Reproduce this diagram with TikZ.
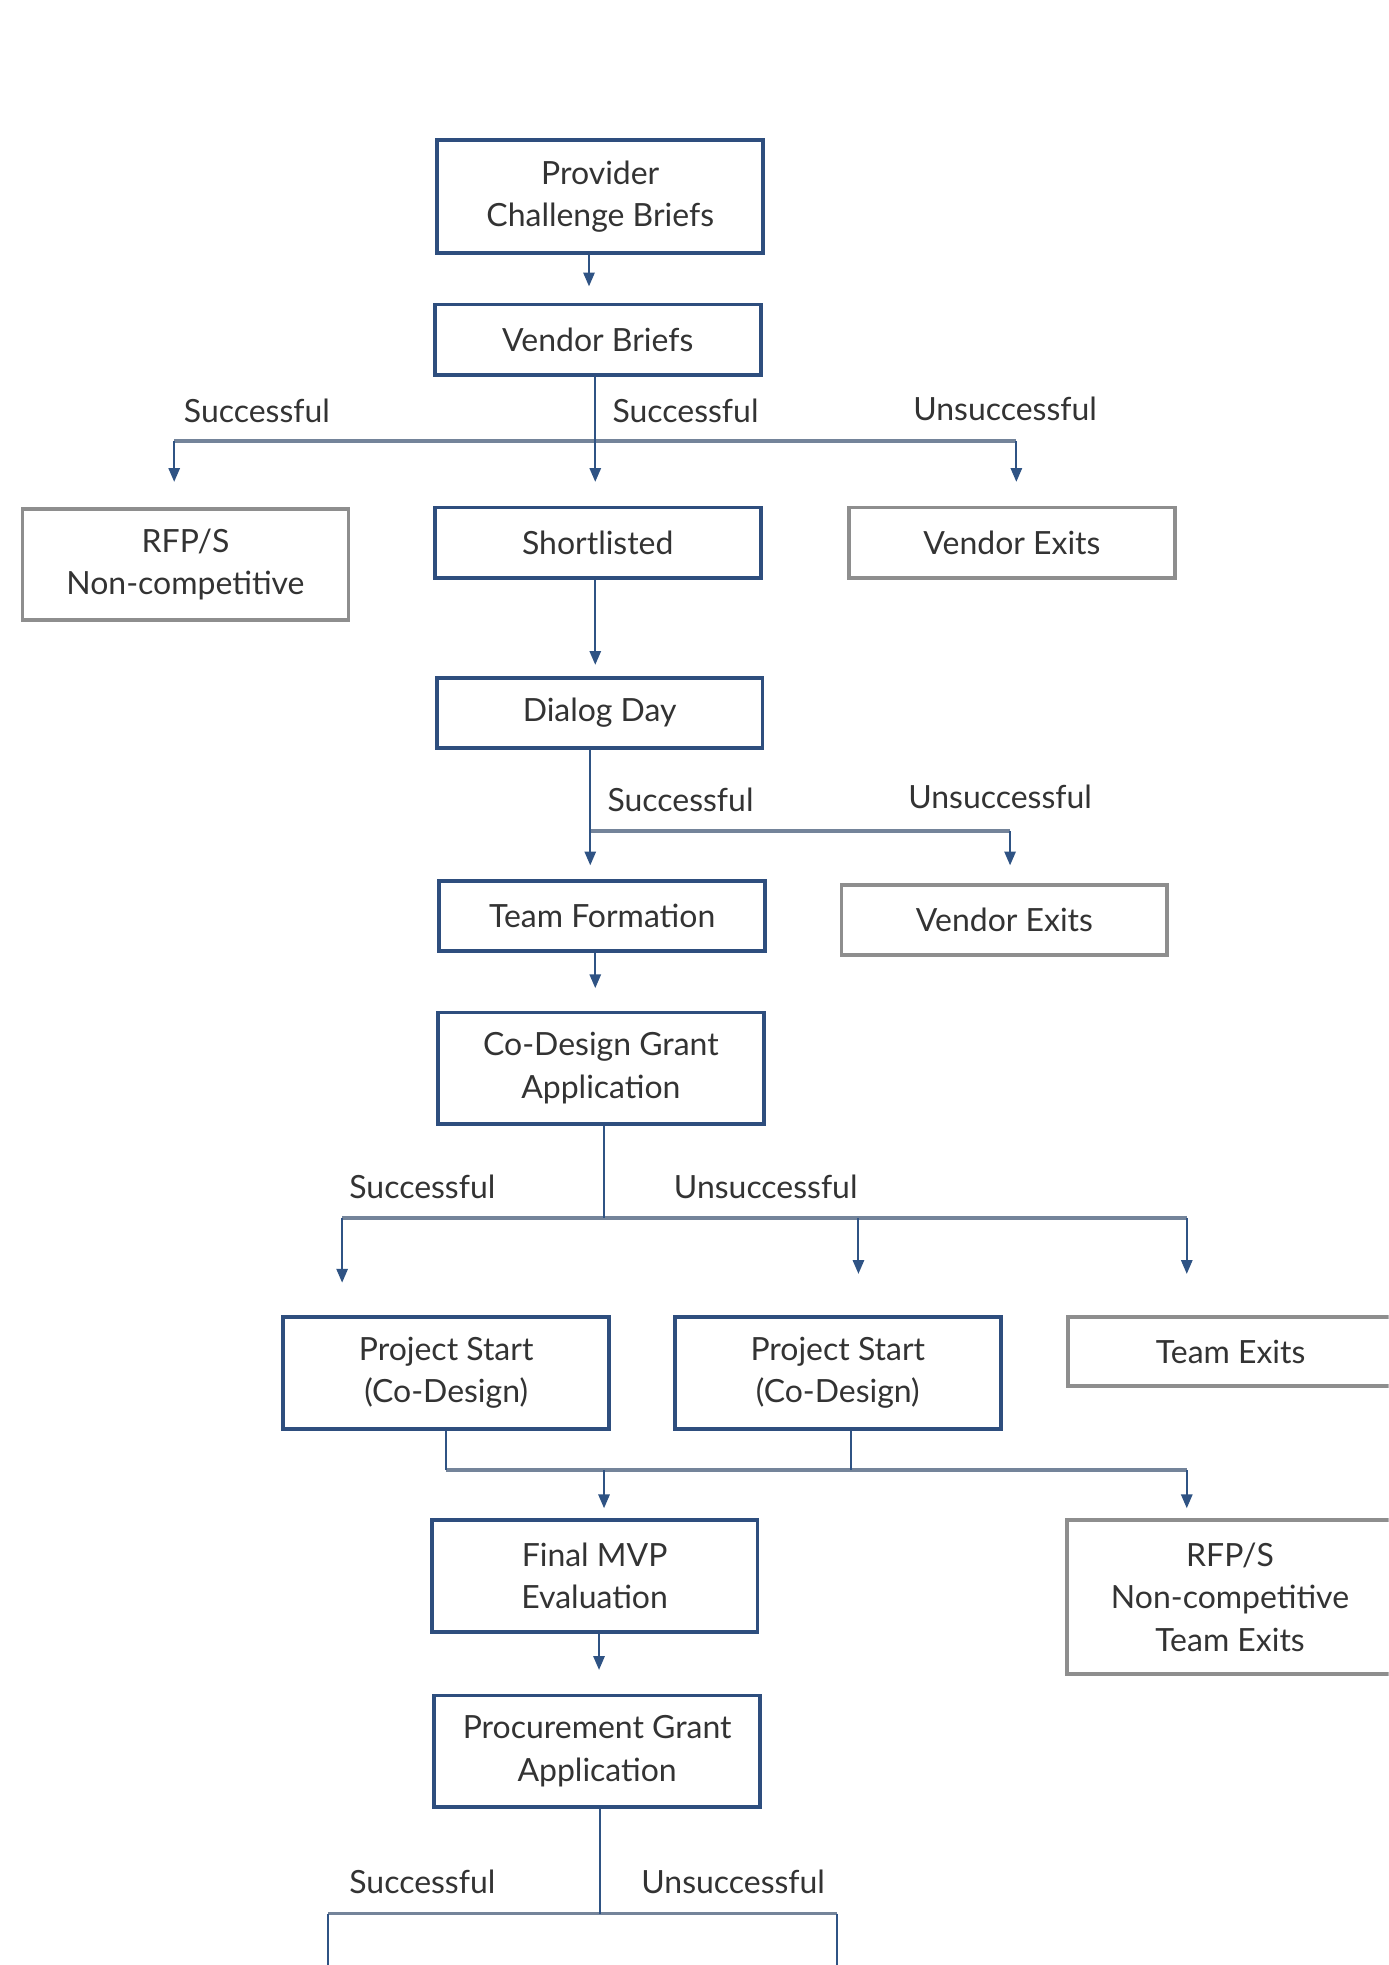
\documentclass[tikz,border=0pt]{standalone}
\usepackage{fontspec}
\setmainfont{Lato}
\usetikzlibrary{arrows.meta}
\definecolor{boxblue}{HTML}{2E4E7E}
\definecolor{boxgray}{HTML}{8E8E8E}
\definecolor{lineblue}{HTML}{2F5384}
\definecolor{hgray}{HTML}{74849A}
\definecolor{txt}{HTML}{333333}
\tikzset{
  base/.style={rectangle, minimum width=260pt, inner sep=0pt, align=center, text=txt,
    font=\fontsize{25.5}{34}\selectfont, line width=3pt, fill=white},
  bluebox/.style={base, draw=boxblue},
  graybox/.style={base, draw=boxgray},
  arr/.style={draw=lineblue, line width=1.6pt, -{Triangle[width=9pt,length=11pt]}},
  vline/.style={draw=lineblue, line width=1.6pt},
  hline/.style={draw=hgray, line width=2.6pt},
  lab/.style={text=txt, font=\fontsize{25.5}{30}\selectfont, inner sep=0pt}
}
\begin{document}
\begin{tikzpicture}[x=1pt,y=-1pt]
\useasboundingbox (0,0) rectangle (1108,1568);
\fill[white] (0,0) rectangle (1108,1568);
\clip (0,0) rectangle (1108,1568);

% nodes
\node[bluebox, minimum height=90pt] (prov) at (479,157) {Provider\\Challenge Briefs};
\node[bluebox, minimum height=56pt] (vb) at (477,271) {Vendor Briefs};
\node[graybox, minimum height=89pt] (rfp1) at (148,450.5) {RFP/S\\Non-competitive};
\node[bluebox, minimum height=56pt] (sl) at (477,433) {Shortlisted};
\node[graybox, minimum height=56pt] (ve1) at (807.5,433) {Vendor Exits};
\node[bluebox, minimum height=56pt] (dd) at (478.5,569) {Dialog Day};
\node[bluebox, minimum height=56pt] (tf) at (480.5,731) {Team Formation};
\node[graybox, minimum height=56pt] (ve2) at (801.5,734) {Vendor Exits};
\node[bluebox, minimum height=89pt] (cd) at (479.5,852.5) {Co-Design Grant\\Application};
\node[bluebox, minimum height=89pt] (ps1) at (356,1095.5) {Project Start\\(Co-Design)};
\node[bluebox, minimum height=89pt] (ps2) at (668.5,1095.5) {Project Start\\(Co-Design)};
\node[graybox, minimum height=55pt] (te) at (982,1078.5) {Team Exits};
\node[bluebox, minimum height=89pt] (mvp) at (474.5,1257.5) {Final MVP\\Evaluation};
\node[graybox, minimum height=123pt] (rfp2) at (981.5,1274.5) {RFP/S\\Non-competitive\\Team Exits};
\node[bluebox, minimum height=89pt] (pga) at (476.5,1397.5) {Procurement Grant\\Application};

% labels
\node[lab] (l1) at (205,328) {Successful};
\node[lab] (l2) at (547,328) {Successful};
\node[lab] (l3) at (802,326) {Unsuccessful};
\node[lab] (l4) at (543,638) {Successful};
\node[lab] (l5) at (798,636) {Unsuccessful};
\node[lab] (l6) at (337,947) {Successful};
\node[lab] (l7) at (611,947) {Unsuccessful};
\node[lab] (l8) at (337,1502) {Successful};
\node[lab] (l9) at (585,1502) {Unsuccessful};

% junction coordinates
\coordinate (j1) at (475,352);
\coordinate (j1l) at (139,352);
\coordinate (j1r) at (811,352);
\coordinate (j2) at (471,663);
\coordinate (j2r) at (806,663);
\coordinate (j3) at (482,972);
\coordinate (j3l) at (273,972);
\coordinate (j3m) at (685,972);
\coordinate (j3r) at (947,972);
\coordinate (j4l) at (356,1173);
\coordinate (j4m) at (482,1173);
\coordinate (j4c) at (679,1173);
\coordinate (j4r) at (947,1173);
\coordinate (j5) at (479,1527);
\coordinate (j5l) at (262,1527);
\coordinate (j5r) at (668,1527);
\coordinate (e5l) at (262,1600);
\coordinate (e5r) at (668,1600);

% horizontal bars
\draw[hline] (j1l) -- (j1r);
\draw[hline] (j2) -- (j2r);
\draw[hline] (j3l) -- (j3r);
\draw[hline] (j4l) -- (j4r);
\draw[hline] (j5l) -- (j5r);

% connectors
\draw[arr, shorten >=13pt] ([xshift=-9pt]prov.south) -- ([xshift=-9pt]prov.south |- vb.north);
\draw[vline] (vb.south -| j1) -- (j1);
\draw[arr, shorten >=19pt] (j1) -- (j1 |- sl.north);
\draw[arr, shorten >=20pt] (j1l) -- (j1l |- rfp1.north);
\draw[arr, shorten >=19pt] (j1r) -- (j1r |- ve1.north);
\draw[arr, shorten >=9pt] (sl.south -| j1) -- (j1 |- dd.north);
\draw[arr, shorten >=11pt] (dd.south -| j2) -- (j2 |- tf.north);
\draw[arr, shorten >=14pt] (j2r) -- (j2r |- ve2.north);
\draw[arr, shorten >=18pt] (tf.south -| j1) -- (j1 |- cd.north);
\draw[vline] (cd.south -| j3) -- (j3);
\draw[arr, shorten >=26pt] (j3l) -- (j3l |- ps1.north);
\draw[arr, shorten >=33pt] (j3m) -- (j3m |- ps2.north);
\draw[arr, shorten >=33pt] (j3r) -- (j3r |- te.north);
\draw[vline] (ps1.south -| j4l) -- (j4l);
\draw[vline] (ps2.south -| j4c) -- (j4c);
\draw[arr, shorten >=8pt] (j4m) -- (j4m |- mvp.north);
\draw[arr, shorten >=8pt] (j4r) -- (j4r |- rfp2.north);
\draw[arr, shorten >=19pt] ([xshift=3.5pt]mvp.south) -- ([xshift=3.5pt]mvp.south |- pga.north);
\draw[vline] (pga.south -| j5) -- (j5);
\draw[vline] (j5l) -- (e5l);
\draw[vline] (j5r) -- (e5r);
\end{tikzpicture}
\end{document}
